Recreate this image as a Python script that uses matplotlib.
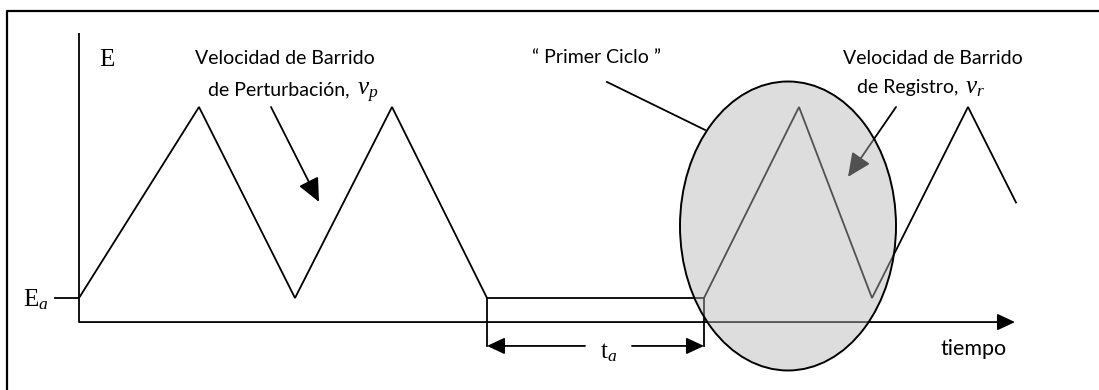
import matplotlib
matplotlib.use("Agg")
import matplotlib.pyplot as plt
from matplotlib.patches import Ellipse
from matplotlib.lines import Line2D

plt.rcParams['font.family'] = ['Lato', 'DejaVu Sans']
plt.rcParams['mathtext.fontset'] = 'custom'
plt.rcParams['mathtext.rm'] = 'Liberation Serif'
plt.rcParams['mathtext.it'] = 'Liberation Serif:italic'

# ---- data (time in arbitrary units, potential normalised: Ea = 0, peak = 1) ----
t_wave = [0, 12.0, 21.6, 31.3, 40.8, 62.5, 72.0, 79.3, 88.9, 93.7]
E_wave = [0, 1.0, 0.0, 1.0, 0.0, 0.0, 1.0, 0.0, 1.0, 0.5]

E_axis = -0.126          # level of the time axis
E_top = 1.387            # top of the potential axis
t_axis_end = 93.6        # end of the time axis arrow
t_hold = [40.8, 62.5]    # start / end of waiting period t_a
E_dim = -0.251           # level of the t_a dimension arrows
t_gap = [50.6, 55.3]     # gap in dimension line for the label

ellipse_center = (70.9, 0.377)
ellipse_size = (21.6, 1.513)

labels_center = [
    ("Velocidad de Barrido", 20.6, 1.225),
    ("\u201c Primer Ciclo \u201d", 51.8, 1.230),
    ("Velocidad de Barrido", 85.4, 1.225),
]
labels_right = [
    ("de Perturbación,", 27.0, 1.063),
    ("de Registro,", 87.9, 1.073),
]
labels_math = [
    (r"$v_p$", 27.8, 1.063),
    (r"$v_r$", 88.6, 1.073),
]

fig = plt.figure(figsize=(10.99, 3.9), dpi=100)
ax = fig.add_axes([0, 0, 1, 1])
ax.set_xlim(-7.9, 102.0)
ax.set_ylim(-0.4817, 1.5602)
ax.axis('off')

# frame (top and left edges visible)
fig.add_artist(Line2D([0.0064, 0.0064, 1.0], [0.0, 0.9718, 0.9718],
                      transform=fig.transFigure, color='black', lw=1.6))

lw = 1.3
head = '-|>,head_length=0.9,head_width=0.42'
# axes
ax.plot([0, 0], [E_axis, E_top], color='black', lw=lw, solid_capstyle='butt')
ax.annotate('', xy=(t_axis_end, E_axis), xytext=(0, E_axis),
            arrowprops=dict(arrowstyle=head, mutation_scale=12, color='black',
                            lw=lw, shrinkA=0, shrinkB=0))
# Ea tick
ax.plot([-2.4, 0], [0, 0], color='black', lw=lw)

# waveform
ax.plot(t_wave, E_wave, color='black', lw=lw, solid_joinstyle='miter')

# t_a dimension
for tv in t_hold:
    ax.plot([tv, tv], [0, E_dim], color='black', lw=lw)
ax.annotate('', xy=(t_hold[0], E_dim), xytext=(t_gap[0], E_dim),
            arrowprops=dict(arrowstyle=head, mutation_scale=12, color='black',
                            lw=lw, shrinkA=0, shrinkB=0))
ax.annotate('', xy=(t_hold[1], E_dim), xytext=(t_gap[1], E_dim),
            arrowprops=dict(arrowstyle=head, mutation_scale=12, color='black',
                            lw=lw, shrinkA=0, shrinkB=0))

# pointer arrows
ptr = '-|>,head_length=1.2,head_width=0.55'
ax.annotate('', xy=(24.0, 0.503), xytext=(19.2, 1.0),
            arrowprops=dict(arrowstyle=ptr, mutation_scale=12, color='black',
                            lw=lw, shrinkA=0, shrinkB=0))
ax.annotate('', xy=(76.9, 0.634), xytext=(81.7, 1.0),
            arrowprops=dict(arrowstyle=ptr, mutation_scale=12, color='black',
                            lw=lw, shrinkA=0, shrinkB=0), zorder=1)
# "Primer Ciclo" leader line
ax.plot([52.8, 62.6], [1.131, 0.880], color='black', lw=lw)

# ellipse on top (semi-transparent)
ell = Ellipse(ellipse_center, ellipse_size[0], ellipse_size[1],
              facecolor='#b4b4b4', alpha=0.45, edgecolor='none', zorder=5)
ax.add_patch(ell)
ell2 = Ellipse(ellipse_center, ellipse_size[0], ellipse_size[1],
               facecolor='none', edgecolor='black', lw=1.4, zorder=6)
ax.add_patch(ell2)

# texts
fs = 14
for s, x, y in labels_center:
    ax.text(x, y, s, ha='center', va='baseline', fontsize=fs)
for s, x, y in labels_right:
    ax.text(x, y, s, ha='right', va='baseline', fontsize=fs)
for s, x, y in labels_math:
    ax.text(x, y, s, ha='left', va='baseline', fontsize=18)

ax.text(2.0, 1.246, 'E', ha='left', va='center', fontsize=18,
        family='Liberation Serif')
ax.text(-3.0, -0.042, r'$\mathrm{E}_{a}$', ha='right', va='baseline', fontsize=18)
ax.text(53.0, -0.314, r'$\mathrm{t}_{a}$', ha='center', va='baseline', fontsize=18)
ax.text(89.5, -0.298, 'tiempo', ha='center', va='baseline', fontsize=15.5)

fig.savefig('out.png', dpi=100)
